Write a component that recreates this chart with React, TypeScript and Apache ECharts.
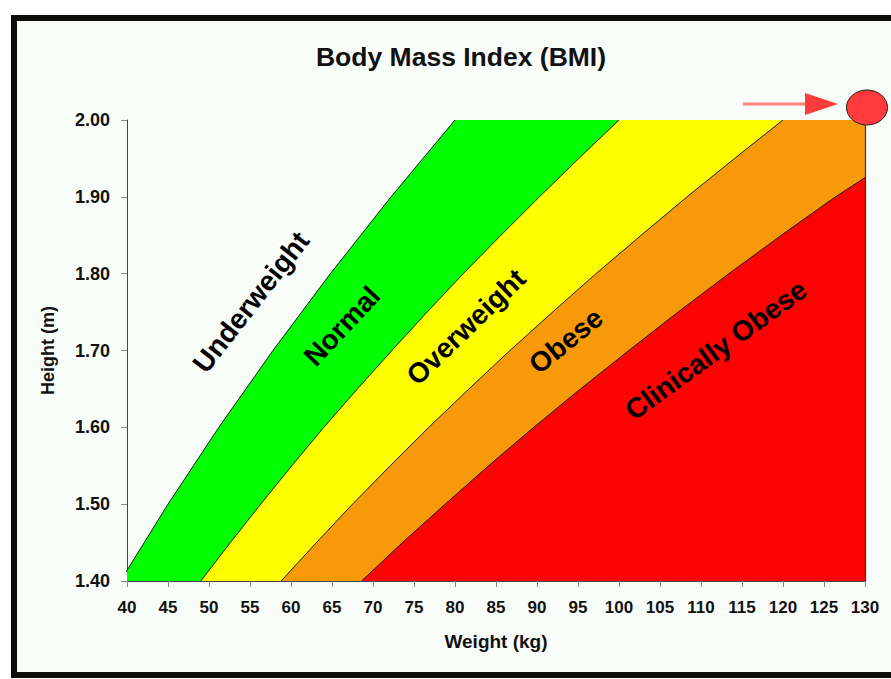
import React, { useEffect, useRef } from "react";
import * as echarts from "echarts";

// Heights (m) at which the band boundaries were read
const heights = [1.4, 1.45, 1.5, 1.55, 1.6, 1.65, 1.7, 1.75, 1.8, 1.85, 1.9, 1.95, 2.0];
// Weight (kg) of each boundary at those heights
const underweightEdge = [39.2, 42.1, 45.0, 48.1, 51.2, 54.5, 57.8, 61.3, 64.8, 68.5, 72.2, 76.1, 80.0];
const normalEdge = [49.0, 52.6, 56.3, 60.1, 64.0, 68.1, 72.3, 76.6, 81.0, 85.6, 90.3, 95.1, 100.0];
const overweightEdge = [58.8, 63.1, 67.5, 72.1, 76.8, 81.7, 86.7, 91.9, 97.2, 102.7, 108.3, 114.1, 120.0];
const obeseHeights = [1.4, 1.45, 1.5, 1.55, 1.6, 1.65, 1.7, 1.75, 1.8, 1.85, 1.9, 1.925];
const obeseEdge = [68.6, 73.6, 78.8, 84.1, 89.6, 95.3, 101.2, 107.2, 113.4, 119.8, 126.4, 130.0];

const weightMin = 40;
const weightMax = 130;
const heightMin = 1.4;
const heightMax = 2.0;

const bandNames = ["Normal", "Overweight", "Obese", "Clinically Obese"];
const bandColors = ["#00ff00", "#ffff00", "#f8990a", "#fd0304"];

const FONT = "'Liberation Sans', Arial, sans-serif";

function curve(ws: number[], hs: number[]) {
  return ws.map((w, i) => [w, hs[i]]);
}

export default function App() {
  const ref = useRef<HTMLDivElement>(null);
  useEffect(() => {
    if (!ref.current) return;
    const chart = echarts.init(ref.current, undefined, { renderer: "svg" });
    const edges = [
      curve(underweightEdge, heights),
      curve(normalEdge, heights),
      curve(overweightEdge, heights),
      curve(obeseEdge, obeseHeights),
    ];
    const areaSeries = edges.map((pts, i) => {
      const last = pts[pts.length - 1];
      const data = last[1] >= heightMax ? [...pts, [weightMax, heightMax]] : pts;
      return {
        type: "line",
        name: bandNames[i],
        data,
        symbol: "none",
        showSymbol: false,
        lineStyle: { width: 0, opacity: 0 },
        areaStyle: { color: bandColors[i], opacity: 1, origin: "start" },
        silent: true,
        z: 2,
      };
    });
    const lineSeries = edges.map((pts, i) => ({
      type: "line",
      name: bandNames[i] + " edge",
      data: pts,
      symbol: "none",
      showSymbol: false,
      lineStyle: { color: "#1a1a1a", width: 1 },
      silent: true,
      z: 3,
      markLine:
        i === edges.length - 1
          ? {
              symbol: "none",
              silent: true,
              label: { show: false },
              lineStyle: { color: "#333", type: "solid", width: 1.2 },
              data: [{ xAxis: weightMax }],
            }
          : undefined,
    }));

    const labelStyle = (text: string, x: number, y: number, deg: number) => ({
      type: "text",
      x,
      y,
      rotation: (deg * Math.PI) / 180,
      z: 20,
      style: {
        text,
        fill: "#000",
        font: `bold 28px ${FONT}`,
        align: "center",
        verticalAlign: "middle",
      },
    });

    chart.setOption({
      animation: false,
      backgroundColor: "#ffffff",
      title: {
        text: "Body Mass Index (BMI)",
        left: 456,
        top: 38,
        textAlign: "center",
        textStyle: { fontFamily: FONT, fontWeight: "bold", fontSize: 26.5, color: "#111" },
      },
      grid: { left: 127, right: 26, top: 120, bottom: 98 },
      xAxis: {
        type: "value",
        min: weightMin,
        max: weightMax,
        interval: 5,
        name: "Weight (kg)",
        nameLocation: "middle",
        nameGap: 51,
        nameTextStyle: { fontFamily: FONT, fontWeight: "bold", fontSize: 19, color: "#111" },
        axisLine: { lineStyle: { color: "#444", width: 1 } },
        axisTick: { show: true, length: 6, lineStyle: { color: "#888" } },
        axisLabel: { fontFamily: FONT, fontWeight: "bold", fontSize: 17, color: "#111", margin: 18 },
        splitLine: { show: false },
      },
      yAxis: {
        type: "value",
        min: heightMin,
        max: heightMax,
        interval: 0.1,
        name: "Height (m)",
        nameLocation: "middle",
        nameGap: 70,
        nameTextStyle: { fontFamily: FONT, fontWeight: "bold", fontSize: 18, color: "#111" },
        axisLine: { show: true, lineStyle: { color: "#444", width: 1 } },
        axisTick: { show: true, length: 6, lineStyle: { color: "#888" } },
        axisLabel: {
          fontFamily: FONT,
          fontWeight: "bold",
          fontSize: 18,
          color: "#111",
          margin: 17,
          formatter: (v: number) => v.toFixed(2),
        },
        splitLine: { show: false },
      },
      graphic: {
        elements: [
          {
            type: "rect",
            z: -10,
            silent: true,
            shape: { x: 14, y: 18, width: 900, height: 657 },
            style: { fill: "#f9fdf9", stroke: "#0b0b08", lineWidth: 6 },
          },
          labelStyle("Underweight", 251, 302, 52),
          labelStyle("Normal", 342, 326, 47),
          labelStyle("Overweight", 466, 327, 44),
          labelStyle("Obese", 566, 341, 39),
          labelStyle("Clinically Obese", 716, 350, 36),
          {
            type: "line",
            z: 20,
            shape: { x1: 743, y1: 104, x2: 808, y2: 104 },
            style: { stroke: "#ff8080", lineWidth: 3 },
          },
          {
            type: "polygon",
            z: 20,
            shape: { points: [[805, 93], [838, 104], [805, 115]] },
            style: { fill: "#ff3a3a" },
          },
          {
            type: "ellipse",
            z: 20,
            shape: { cx: 867, cy: 107.5, rx: 20.5, ry: 17.5 },
            style: { fill: "#ff3a3a", stroke: "#222", lineWidth: 1 },
          },
        ],
      },
      series: [...areaSeries, ...lineSeries],
    });
    return () => chart.dispose();
  }, []);
  return (
    <div
      ref={ref}
      style={{ position: "fixed", left: 0, top: 0, width: 891, height: 679 }}
    />
  );
}
